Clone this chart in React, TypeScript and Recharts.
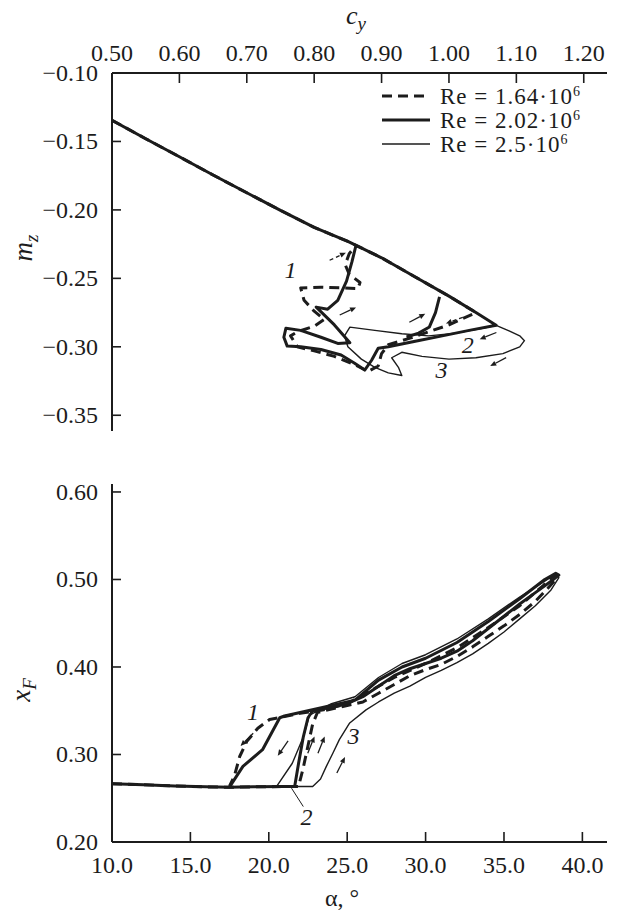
import React from 'react';
import { LineChart, Line, XAxis, YAxis, ReferenceDot, ReferenceLine } from 'recharts';

// ---- top panel: m_z vs c_y ----
const cyTicks = [0.5, 0.6, 0.7, 0.8, 0.9, 1.0, 1.1, 1.2];
const mzTicks = [-0.35, -0.3, -0.25, -0.2, -0.15, -0.1];

// common attached-flow branch
const mainCy = [0.5, 0.55, 0.6, 0.65, 0.7, 0.75, 0.8, 0.85, 0.9, 0.95, 1.0];
const mainMz = [-0.1345, -0.148, -0.1612, -0.1745, -0.1875, -0.2003, -0.2128, -0.223, -0.235, -0.249, -0.263];

const mzLowCy = [1.04, 1.02, 1.0, 0.97, 0.94, 0.91, 0.9, 0.895, 0.88, 0.86, 0.83, 0.8, 0.775, 0.765, 0.775, 0.8, 0.815, 0.8, 0.785, 0.78, 0.81, 0.84, 0.865, 0.868, 0.852, 0.846, 0.852, 0.862];
const mzLowMz = [-0.275, -0.2795, -0.284, -0.289, -0.294, -0.2985, -0.305, -0.314, -0.318, -0.313, -0.307, -0.303, -0.3, -0.292, -0.289, -0.285, -0.28, -0.274, -0.266, -0.257, -0.2565, -0.257, -0.2575, -0.253, -0.247, -0.24, -0.232, -0.226];

const mzMidCy = [1.04, 1.07, 1.03, 0.99, 0.95, 0.91, 0.895, 0.885, 0.875, 0.86, 0.84, 0.81, 0.78, 0.76, 0.755, 0.758, 0.78, 0.81, 0.835, 0.853, 0.83, 0.803, 0.82, 0.835, 0.848, 0.856, 0.862, NaN, 0.937, 0.955, 0.971, 0.98, 0.986];
const mzMidMz = [-0.275, -0.2843, -0.288, -0.292, -0.296, -0.3, -0.301, -0.31, -0.317, -0.312, -0.306, -0.302, -0.3, -0.2995, -0.293, -0.2865, -0.288, -0.293, -0.2975, -0.297, -0.284, -0.271, -0.2725, -0.266, -0.252, -0.238, -0.226, NaN, -0.2928, -0.29, -0.2855, -0.275, -0.2636];

const mzHighCy = [1.04, 1.07, 1.09, 1.105, 1.112, 1.105, 1.08, 1.04, 1.0, 0.96, 0.93, 0.915, 0.925, 0.93, 0.91, 0.89, 0.87, 0.85, 0.845, 0.853, 0.89, 0.93, 0.97, 1.01, 1.05, 1.07];
const mzHighMz = [-0.275, -0.2843, -0.2885, -0.292, -0.2955, -0.3, -0.305, -0.308, -0.309, -0.307, -0.304, -0.308, -0.315, -0.321, -0.319, -0.315, -0.309, -0.3, -0.292, -0.2856, -0.288, -0.2905, -0.292, -0.29, -0.2865, -0.2843];

// ---- bottom panel: x_F vs alpha ----
const alphaTicks = [10, 15, 20, 25, 30, 35, 40];
const xfTicks = [0.2, 0.3, 0.4, 0.5, 0.6];

const baseA = [10, 12, 14, 16, 17.5];
const baseXf = [0.2665, 0.2655, 0.264, 0.263, 0.2625];

const xfLowA = [19, 21.9, 22.2, 22.5, 22.8, 23.1, 24, 25, 26, 27, 28, 29, 30, 31, 32, 33, 34, 35, 36, 37, 37.8, 38.3, 38.4, 38.1, 37.5, 36, 34, 32, 30, 28, 26, 25, 23.5, 22, 20.05, 19.3, 18.6, 18.15, 17.8, 17.5];
const xfLowXf = [0.263, 0.2635, 0.285, 0.31, 0.335, 0.348, 0.352, 0.356, 0.36, 0.37, 0.38, 0.39, 0.397, 0.403, 0.412, 0.423, 0.435, 0.447, 0.46, 0.475, 0.49, 0.5, 0.505, 0.503, 0.493, 0.47, 0.445, 0.422, 0.404, 0.388, 0.368, 0.358, 0.351, 0.347, 0.34, 0.33, 0.315, 0.298, 0.275, 0.264];

const xfMidA = [19, 21, 21.65, 21.9, 22.2, 22.5, 22.8, 24, 25, 26, 27, 28, 29, 30, 31, 32, 33, 34, 35, 36, 37, 38, 38.5, 38.3, 37.6, 36, 34, 32, 30, 28.5, 27, 25.5, 24, 22.5, 21, 20.7, 19.6, 18.35, 17.5];
const xfMidXf = [0.263, 0.2635, 0.2635, 0.29, 0.32, 0.342, 0.35, 0.354, 0.358, 0.366, 0.378, 0.39, 0.398, 0.404, 0.41, 0.418, 0.43, 0.444, 0.458, 0.472, 0.485, 0.498, 0.505, 0.507, 0.5, 0.478, 0.452, 0.428, 0.41, 0.4, 0.385, 0.362, 0.356, 0.35, 0.344, 0.342, 0.3055, 0.2864, 0.263];

const xfHighA = [19, 21, 22.8, 23.3, 23.67, 24.1, 24.5, 25.16, 26.2, 27, 28, 29, 30, 31, 32, 33, 34, 35, 36, 37, 38, 38.5, 38.3, 37.5, 36, 34, 32, 30, 28.5, 27, 25.5, 24, 22.6, 22.2, 21.5, 20.5];
const xfHighXf = [0.263, 0.2635, 0.2635, 0.272, 0.2864, 0.302, 0.317, 0.336, 0.351, 0.36, 0.37, 0.378, 0.388, 0.396, 0.405, 0.415, 0.427, 0.44, 0.455, 0.47, 0.488, 0.502, 0.506, 0.497, 0.48, 0.455, 0.432, 0.414, 0.404, 0.388, 0.366, 0.358, 0.345, 0.32, 0.29, 0.2635];

const legendNames = ['Re = 1.64·10', 'Re = 2.02·10', 'Re = 2.5·10'];
const legendPow = ['6', '6', '6'];

// curve numbers and direction arrows
const topNums = [{ x: 0.765, y: -0.244, t: '1' }, { x: 1.028, y: -0.299, t: '2' }, { x: 0.989, y: -0.317, t: '3' }];
const topArrows = [
  { x: 0.835, y: -0.234, a: -25, d: true },
  { x: 0.85, y: -0.274, a: -25, d: false },
  { x: 0.953, y: -0.279, a: -28, d: false },
  { x: 1.008, y: -0.2807, a: 160, d: true },
  { x: 1.058, y: -0.292, a: 158, d: false },
  { x: 1.073, y: -0.311, a: 152, d: false },
];
const botNums = [{ x: 19.0, y: 0.348, t: '1' }, { x: 22.4, y: 0.228, t: '2' }, { x: 25.4, y: 0.321, t: '3' }];
const botArrows = [
  { x: 18.6, y: 0.317, a: 135, d: false },
  { x: 20.9, y: 0.307, a: 125, d: false },
  { x: 22.7, y: 0.311, a: -68, d: false },
  { x: 23.35, y: 0.311, a: -68, d: false },
  { x: 24.6, y: 0.288, a: -63, d: false },
];

const INK = '#1c1c1c';
const SERIF = '"Liberation Serif", "DejaVu Serif", serif';

const zip = (xs: number[], ys: number[]) => xs.map((x, i) => ({ x, y: Number.isNaN(ys[i]) ? null : ys[i] }));

const topLow = zip(mainCy.concat(mzLowCy), mainMz.concat(mzLowMz));
const topMid = zip(mainCy.concat(mzMidCy), mainMz.concat(mzMidMz));
const topHigh = zip(mainCy.concat(mzHighCy), mainMz.concat(mzHighMz));
const botLow = zip(baseA.concat(xfLowA), baseXf.concat(xfLowXf));
const botMid = zip(baseA.concat(xfMidA), baseXf.concat(xfMidXf));
const botHigh = zip(baseA.concat(xfHighA), baseXf.concat(xfHighXf));

const styles = [
  { w: 3, dash: '10 6' },
  { w: 3, dash: undefined },
  { w: 1.4, dash: undefined },
];

const minus = (v: number) => (v < 0 ? '\u2212' + Math.abs(v).toFixed(2) : v.toFixed(2));

const LeftTick = (props: any) => {
  const { x, y, payload, fmt } = props;
  return (
    <g>
      <line x1={x + 14} x2={x + 23} y1={y} y2={y} stroke={INK} strokeWidth={1.6} />
      <text x={x} y={y + 8} textAnchor="end" fontFamily={SERIF} fontSize={24} fill={INK}>
        {fmt(payload.value)}
      </text>
    </g>
  );
};

const TopTick = (props: any) => {
  const { x, y, payload } = props;
  return (
    <g>
      <line x1={x} x2={x} y1={y + 12} y2={y + 22} stroke={INK} strokeWidth={1.6} />
      <text x={x} y={y} textAnchor="middle" fontFamily={SERIF} fontSize={24} fill={INK}>
        {payload.value.toFixed(2)}
      </text>
    </g>
  );
};

const BottomTick = (props: any) => {
  const { x, y, payload } = props;
  return (
    <g>
      <line x1={x} x2={x} y1={y - 12} y2={y - 22} stroke={INK} strokeWidth={1.6} />
      <text x={x} y={y + 19} textAnchor="middle" fontFamily={SERIF} fontSize={24} fill={INK}>
        {payload.value.toFixed(1)}
      </text>
    </g>
  );
};

const Arrow = ({ cx, cy, angle, dashed }: any) => {
  const a = (angle * Math.PI) / 180;
  const ux = Math.cos(a);
  const uy = Math.sin(a);
  const len = 18;
  const tx = cx + (ux * len) / 2;
  const ty = cy + (uy * len) / 2;
  const hx = tx - ux * 6;
  const hy = ty - uy * 6;
  const w = 2.6;
  return (
    <g>
      <line x1={cx - (ux * len) / 2} y1={cy - (uy * len) / 2} x2={hx} y2={hy} stroke={INK} strokeWidth={1.3} strokeDasharray={dashed ? '4 3' : undefined} />
      <polygon points={`${tx},${ty} ${hx - uy * w},${hy + ux * w} ${hx + uy * w},${hy - ux * w}`} fill={INK} />
    </g>
  );
};

const Num = ({ cx, cy, t }: any) => (
  <text x={cx} y={cy + 8} textAnchor="middle" fontFamily={SERIF} fontStyle="italic" fontSize={24} fill={INK}>
    {t}
  </text>
);

const series = (data: any[], i: number, key: string) => (
  <Line
    key={key}
    data={data}
    dataKey="y"
    type="linear"
    dot={false}
    activeDot={false}
    stroke={INK}
    strokeWidth={styles[i].w}
    strokeDasharray={styles[i].dash}
    strokeLinejoin="round"
    connectNulls={false}
    isAnimationActive={false}
  />
);

export default function App() {
  return (
    <div style={{ position: 'absolute', left: 0, top: 0, width: 619, height: 915, background: '#fff' }}>
      <div style={{ position: 'absolute', left: 0, top: 0 }}>
        <LineChart width={619} height={440} margin={{ top: 0, right: 12, bottom: 9, left: 0 }}>
          <XAxis
            type="number"
            dataKey="x"
            orientation="top"
            height={73}
            domain={[0.5, 1.2345]}
            ticks={cyTicks}
            allowDataOverflow
            tickSize={0}
            tickMargin={12}
            tick={<TopTick />}
            axisLine={{ stroke: INK, strokeWidth: 2 }}
            label={{
              content: (p: any) => (
                <text x={p.viewBox.x + 244} y={24} textAnchor="middle" fontFamily={SERIF} fontSize={26} fontStyle="italic" fill={INK}>
                  c<tspan dy={6} fontSize={19}>y</tspan>
                </text>
              ),
            }}
          />
          <YAxis
            type="number"
            width={112}
            domain={[-0.3615, -0.1]}
            ticks={mzTicks}
            allowDataOverflow
            tickSize={0}
            tickMargin={14}
            tick={<LeftTick fmt={minus} />}
            axisLine={{ stroke: INK, strokeWidth: 2 }}
            label={{
              content: (p: any) => {
                const cx = 32;
                const cy = p.viewBox.y + 175;
                return (
                  <text x={cx} y={cy} transform={`rotate(-90, ${cx}, ${cy})`} textAnchor="middle" fontFamily={SERIF} fontSize={27} fontStyle="italic" fill={INK}>
                    m<tspan dy={6} fontSize={19}>z</tspan>
                  </text>
                );
              },
            }}
          />
          {series(topLow, 0, 'tl')}
          {series(topMid, 1, 'tm')}
          {series(topHigh, 2, 'th')}
          {topNums.map((n) => (
            <ReferenceDot key={'tn' + n.t} x={n.x} y={n.y} r={0} shape={(p: any) => <Num cx={p.cx} cy={p.cy} t={n.t} />} />
          ))}
          {topArrows.map((a, i) => (
            <ReferenceDot key={'ta' + i} x={a.x} y={a.y} r={0} shape={(p: any) => <Arrow cx={p.cx} cy={p.cy} angle={a.a} dashed={a.d} />} />
          ))}
        </LineChart>
      </div>

      <svg width={241} height={100} style={{ position: 'absolute', left: 378, top: 76 }}>
        {legendNames.map((name, i) => (
          <g key={name}>
            <line x1={4} x2={52} y1={20 + i * 24} y2={20 + i * 24} stroke={INK} strokeWidth={styles[i].w} strokeDasharray={styles[i].dash} />
            <text x={62} y={28 + i * 24} fontFamily={SERIF} fontSize={23} letterSpacing={1} fill={INK}>
              {name}
              <tspan dy={-8} fontSize={14}>{legendPow[i]}</tspan>
            </text>
          </g>
        ))}
      </svg>

      <div style={{ position: 'absolute', left: 0, top: 440 }}>
        <LineChart width={619} height={475} margin={{ top: 44, right: 12, bottom: 0, left: 0 }}>
          <XAxis
            type="number"
            dataKey="x"
            orientation="bottom"
            height={73}
            domain={[10, 41.57]}
            ticks={alphaTicks}
            allowDataOverflow
            tickSize={0}
            tickMargin={12}
            tick={<BottomTick />}
            axisLine={{ stroke: INK, strokeWidth: 2 }}
            label={{
              content: (p: any) => (
                <text x={p.viewBox.x + 230} y={p.viewBox.y + 64} textAnchor="middle" fontFamily={SERIF} fontSize={24} fill={INK}>
                  α, °
                </text>
              ),
            }}
          />
          <YAxis
            type="number"
            width={112}
            domain={[0.2, 0.6091]}
            ticks={xfTicks}
            allowDataOverflow
            tickSize={0}
            tickMargin={14}
            tick={<LeftTick fmt={(v: number) => v.toFixed(2)} />}
            axisLine={{ stroke: INK, strokeWidth: 2 }}
            label={{
              content: (p: any) => {
                const cx = 30;
                const cy = p.viewBox.y + 206;
                return (
                  <text x={cx} y={cy} transform={`rotate(-90, ${cx}, ${cy})`} textAnchor="middle" fontFamily={SERIF} fontSize={27} fontStyle="italic" fill={INK}>
                    x<tspan dy={6} fontSize={19}>F</tspan>
                  </text>
                );
              },
            }}
          />
          {series(botLow, 0, 'bl')}
          {series(botMid, 1, 'bm')}
          {series(botHigh, 2, 'bh')}
          <ReferenceLine segment={[{ x: 21.45, y: 0.2615 }, { x: 22.2, y: 0.2405 }]} stroke={INK} strokeWidth={1} />
          {botNums.map((n) => (
            <ReferenceDot key={'bn' + n.t} x={n.x} y={n.y} r={0} shape={(p: any) => <Num cx={p.cx} cy={p.cy} t={n.t} />} />
          ))}
          {botArrows.map((a, i) => (
            <ReferenceDot key={'ba' + i} x={a.x} y={a.y} r={0} shape={(p: any) => <Arrow cx={p.cx} cy={p.cy} angle={a.a} dashed={a.d} />} />
          ))}
        </LineChart>
      </div>
    </div>
  );
}
